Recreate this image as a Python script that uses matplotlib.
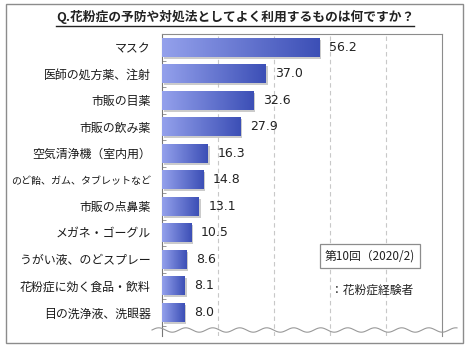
import matplotlib
matplotlib.use("Agg")
import matplotlib.pyplot as plt
import numpy as np
from matplotlib.colors import LinearSegmentedColormap
from matplotlib.lines import Line2D
from matplotlib.patches import Rectangle
from matplotlib.transforms import offset_copy

plt.rcParams["font.family"] = ["Noto Sans CJK JP", "DejaVu Sans"]

# 花粉症の予防・対処法 (%), 第10回 (2020/2), 花粉症経験者
CATEGORIES = [
    "マスク",
    "医師の処方薬、注射",
    "市販の目薬",
    "市販の飲み薬",
    "空気清浄機（室内用）",
    "のど飴、ガム、タブレットなど",
    "市販の点鼻薬",
    "メガネ・ゴーグル",
    "うがい液、のどスプレー",
    "花粉症に効く食品・飲料",
    "目の洗浄液、洗眼器",
]
VALUES = [56.2, 37.0, 32.6, 27.9, 16.3, 14.8, 13.1, 10.5, 8.6, 8.1, 8.0]

TITLE = "Q.花粉症の予防や対処法としてよく利用するものは何ですか？"
LEGEND_BOX = "第10回（2020/2)"
LEGEND_NOTE = "：花粉症経験者"

W, H = 470, 350
fig = plt.figure(figsize=(W / 100, H / 100), dpi=100)

# outer frame
fig.add_artist(Rectangle((6 / W, 7 / H), 457 / W, 339 / H, transform=fig.transFigure,
                         fill=False, edgecolor="#8c8c8c", linewidth=1.0))

ax = fig.add_axes([162 / W, 14 / H, 280 / W, 302 / H])
y = np.arange(len(CATEGORIES))
bar_h = 0.72

grad_cmap = LinearSegmentedColormap.from_list("bar", ["#94a1ec", "#3c4fb6"])
shadow_tr = offset_copy(ax.transData, fig=fig, x=2, y=-2, units="dots")
ax.barh(y, VALUES, height=bar_h, color="#b5b5b5", alpha=0.7,
        transform=shadow_tr, zorder=2)
bars = ax.barh(y, VALUES, height=bar_h, color="none", zorder=3)
grad = np.linspace(0, 1, 256).reshape(1, -1)
for b in bars:
    x0, y0 = b.get_x(), b.get_y()
    im = ax.imshow(grad, cmap=grad_cmap, aspect="auto", zorder=3,
                   extent=[x0, x0 + b.get_width(), y0 + b.get_height(), y0])
    im.set_clip_path(b)

for yi, v in zip(y, VALUES):
    ax.annotate(f"{v:.1f}", (v, yi), xytext=(7, 0), textcoords="offset points",
                va="center", ha="left", fontsize=9, family="DejaVu Sans",
                color="#222222")

ax.set_xlim(0, 100)
ax.set_ylim(10.89, -0.5)
ax.set_xticks([20, 40, 60, 80])
ax.xaxis.grid(True, linestyle=(0, (4, 3)), color="#c8c8c8", linewidth=0.8)
ax.set_axisbelow(True)
ax.tick_params(axis="x", length=0, labelbottom=False)

ax.set_yticks(y)
ax.set_yticklabels(CATEGORIES, fontsize=8.6, color="#1a1a1a")
for lab in ax.get_yticklabels():
    if len(lab.get_text()) > 12:
        lab.set_fontsize(7.2)
ax.tick_params(axis="y", length=0, pad=8)
ax.set_yticks(np.arange(-0.5, len(CATEGORIES), 1), minor=True)
ax.tick_params(axis="y", which="minor", direction="in", length=3, color="#888888")

for s in ["top", "right"]:
    ax.spines[s].set_color("#8c8c8c")
ax.spines["left"].set_color("#777777")
ax.spines["bottom"].set_visible(False)

# wavy "omitted" line at the bottom
wx = np.linspace(152, 457, 400)
wy = 20 + 2.2 * np.sin((wx - 152) / 27 * 2 * np.pi)
fig.add_artist(Line2D(wx / W, wy / H, transform=fig.transFigure,
                      color="#999999", linewidth=0.8))

# title with underline
t = fig.text(0.5, 1 - 17 / H, TITLE, ha="center", va="center",
             fontsize=9.2, fontweight="bold", color="#222222")
fig.canvas.draw()
bb = t.get_window_extent()
fig.add_artist(Line2D([bb.x0 / W, bb.x1 / W], [(H - 26) / H] * 2,
                      transform=fig.transFigure, color="#222222", linewidth=1.0))

# legend
fig.text(370 / W, 1 - 256 / H, LEGEND_BOX, ha="center", va="center", fontsize=8.5,
         color="#222222",
         bbox=dict(boxstyle="square,pad=0.45", facecolor="white", edgecolor="#8c8c8c",
                   linewidth=0.9))
fig.text(413 / W, 1 - 290 / H, LEGEND_NOTE, ha="right", va="center", fontsize=8.5,
         color="#222222")

fig.savefig("out.png", dpi=100)
